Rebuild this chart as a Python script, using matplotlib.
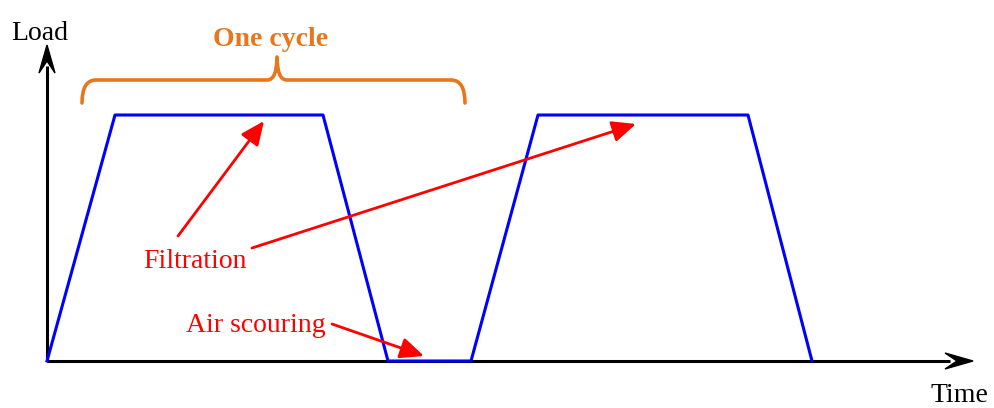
import matplotlib
matplotlib.use("Agg")
import matplotlib.pyplot as plt
from matplotlib.patches import FancyArrowPatch, Polygon, PathPatch
from matplotlib.path import Path

# ---- data ----
time_points = [0, 6.8, 27.6, 34.1, 42.4, 49.1, 70.1, 76.5]
load_values = [0, 1, 1, 0, 0, 1, 1, 0]
x_label = "Time"
y_label = "Load"
cycle_label = "One cycle"
filtration_label = "Filtration"
scouring_label = "Air scouring"

W, H = 995, 408
fig = plt.figure(figsize=(W / 100, H / 100), dpi=100)
ax = fig.add_axes([0, 0, 1, 1])
ax.set_axis_off()

X0, Y0 = 47, 361      # pixel of origin
SX, SY = 10.0, 246.0  # pixels per unit

def d(px, py):
    """pixel (from top-left) -> data"""
    return ((px - X0) / SX, (Y0 - py) / SY)

ax.set_xlim(d(0, 0)[0], d(W, 0)[0])
ax.set_ylim(d(0, H)[1], d(0, 0)[1])

serif = ["Liberation Serif", "DejaVu Serif"]
orange = "#E8761C"

# axes lines
ax.plot([0, d(950, 0)[0]], [0, 0], color="black", lw=2.2, solid_capstyle="butt", zorder=2)
ax.plot([0, 0], [0, d(0, 66)[1]], color="black", lw=2.2, solid_capstyle="butt", zorder=2)

def stealth(tip, direction):
    L, Wd, notch = 28, 16, 16
    tx, ty = tip
    if direction == "right":
        pts = [(tx, ty), (tx - L, ty - Wd / 2), (tx - notch, ty), (tx - L, ty + Wd / 2)]
    else:
        pts = [(tx, ty), (tx - Wd / 2, ty + L), (tx, ty + notch), (tx + Wd / 2, ty + L)]
    return Polygon([d(*p) for p in pts], closed=True, color="black", zorder=3)

ax.add_patch(stealth((973, 361), "right"))
ax.add_patch(stealth((47, 45), "up"))

# load profile
ax.plot(time_points, load_values, color="#0000FF", lw=2.2, zorder=4)

# brace
bx0, bx1, bmid = 82, 465, 277
by_end, by_line, by_peak = 103, 80, 57
r = 14
verts = [(bx0, by_end), (bx0, by_line), (bx0 + r, by_line),
         (bmid - 10, by_line), (bmid, by_line), (bmid, by_peak),
         (bmid, by_line), (bmid + 10, by_line),
         (bx1 - r, by_line), (bx1, by_line), (bx1, by_end)]
codes = [Path.MOVETO, Path.CURVE3, Path.CURVE3,
         Path.LINETO, Path.CURVE3, Path.CURVE3,
         Path.CURVE3, Path.CURVE3,
         Path.LINETO, Path.CURVE3, Path.CURVE3]
brace = PathPatch(Path([d(*v) for v in verts], codes), fill=False,
                  edgecolor=orange, lw=2.6, capstyle="round", joinstyle="round", zorder=3)
ax.add_patch(brace)

# texts
ax.text(*d(40, 40), y_label, ha="center", va="baseline", fontsize=20, family=serif, color="black")
ax.text(*d(959, 402), x_label, ha="center", va="baseline", fontsize=20, family=serif, color="black")
ax.text(*d(271, 46), cycle_label, ha="center", va="baseline", fontsize=20, family=serif,
        color=orange, fontweight="bold")
ax.text(*d(195, 268), filtration_label, ha="center", va="baseline", fontsize=20, family=serif, color="red")
ax.text(*d(256, 332), scouring_label, ha="center", va="baseline", fontsize=20, family=serif, color="red")

def red_arrow(p0, p1):
    a = FancyArrowPatch(d(*p0), d(*p1), arrowstyle="-|>,head_length=0.72,head_width=0.32",
                        mutation_scale=20, color="red", lw=2.0, shrinkA=0, shrinkB=0, zorder=5)
    ax.add_patch(a)

red_arrow((178, 236), (264, 121))
red_arrow((252, 248), (636, 124))
red_arrow((332, 324), (424, 356))

fig.savefig("out.png", dpi=100)
